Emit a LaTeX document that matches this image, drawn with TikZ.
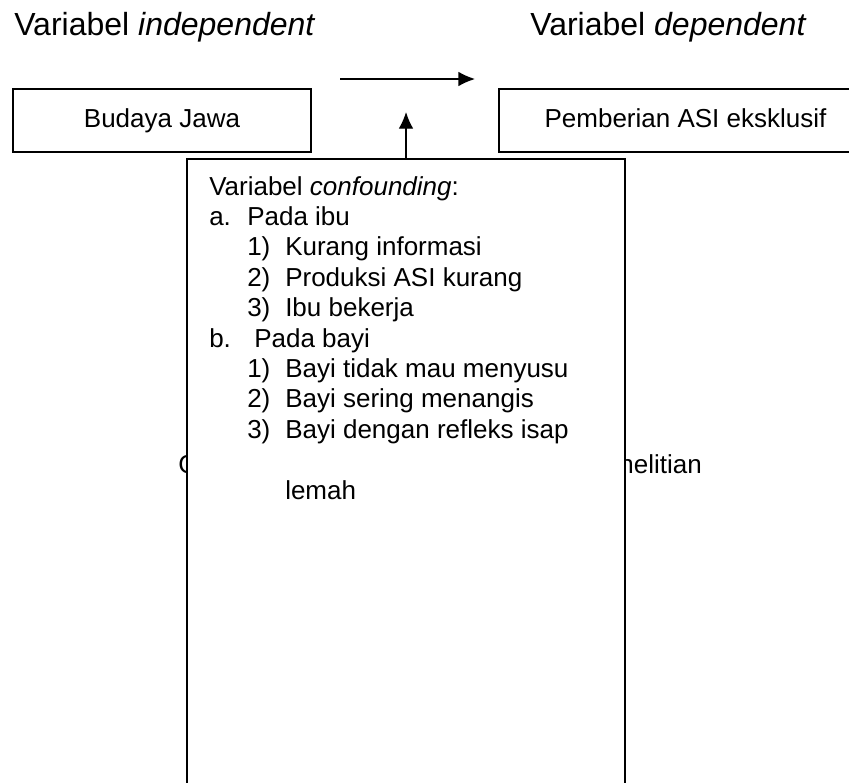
\documentclass[tikz,border=0pt]{standalone}
\usepackage{fontspec}
\setmainfont{Liberation Sans}
\usepackage{tikz}
\usetikzlibrary{arrows.meta}
\tikzstyle{varbox}=[draw=black, line width=1.6pt, inner sep=0pt, text height=14.2pt, text depth=4.1pt]
\tikzstyle{heading}=[anchor=base west, inner sep=0pt, font=\fontsize{24}{28}\selectfont]
\tikzstyle{link}=[line width=1pt, -{Latex[length=12.5pt, width=11pt]}]
\newcommand{\tabA}[1]{\makebox[28.5pt][l]{#1}}

\begin{document}
\begin{tikzpicture}[x=0.75pt, y=-0.75pt, font=\fontsize{19.5}{22.8}\selectfont]
    \path[use as bounding box, fill=white] (0,0) rectangle (849,782);

    \node[heading] (indep) at (14,35) {Variabel \textit{independent}};
    \node[heading] (dep) at (530,35) {Variabel \textit{dependent}};

    \node[varbox, minimum width=223.5pt, minimum height=47.25pt] (budaya) at (162,120.5) {Budaya Jawa};
    \node[varbox, minimum width=279.75pt, minimum height=47.25pt] (asi) at (685.5,120.5) {Pemberian ASI eksklusif};

    \node[anchor=base west, inner sep=0pt] (captl) at (178,473) {Gambar};
    \node[anchor=base east, inner sep=0pt] (captr) at (702,473) {penelitian};

    \node[varbox, fill=white, minimum width=328.5pt, minimum height=503.25pt] (conf) at (406,494.5) {};
    \node[anchor=north west, inner sep=0pt, align=left] (conflist) at (209,176) {%
      Variabel \textit{confounding}:\\
      \tabA{a.}Pada ibu\\
      \tabA{}\tabA{1)}Kurang informasi\\
      \tabA{}\tabA{2)}Produksi ASI kurang\\
      \tabA{}\tabA{3)}Ibu bekerja\\
      \makebox[33.75pt][l]{b.}Pada bayi\\
      \tabA{}\tabA{1)}Bayi tidak mau menyusu\\
      \tabA{}\tabA{2)}Bayi sering menangis\\
      \tabA{}\tabA{3)}Bayi dengan refleks isap\\[22.8pt]
      \tabA{}\tabA{}lemah};

    \coordinate (hstart) at (340,79);
    \coordinate (hend) at (475,79);
    \coordinate (vtip) at (406,112);
    \draw[link] (hstart) -- (hend);
    \draw[link] (conf.north) -- (vtip);
  \end{tikzpicture}
\end{document}
